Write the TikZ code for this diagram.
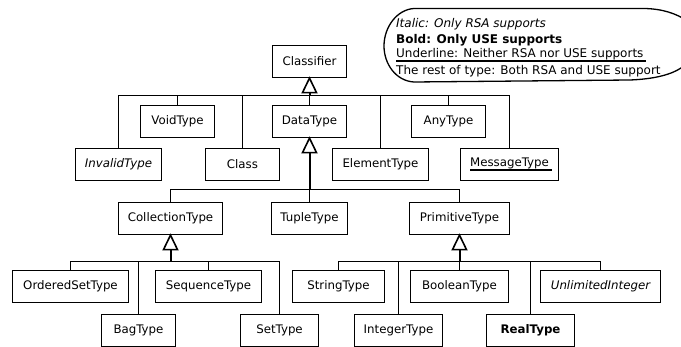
\documentclass[tikz,border=0pt]{standalone}
\usepackage{fontspec}
\setmainfont{DejaVu Sans}
\usetikzlibrary{calc}
% thick underline that runs a little past the end of the text
\newcommand{\ulbar}[1]{\setbox0\hbox{#1}\rlap{\rule[-4pt]{\dimexpr\wd0+3pt\relax}{1.8pt}}\box0}
\begin{document}
\begin{tikzpicture}[x=1pt,y=-1pt,
  box/.style={draw, line width=1.25pt, minimum height=32pt, inner sep=0pt,
              font=\fontsize{11.8}{14}\selectfont},
  conn/.style={line width=1.2pt},
  stem/.style={line width=2pt},
  tri/.style={draw, line width=1.6pt, fill=white, line join=miter},
  legtext/.style={anchor=base west, inner sep=0pt, font=\fontsize{12}{14}\selectfont}]

\useasboundingbox (0,0) rectangle (681,347);

% legend outline, its right end runs past the page edge
\begin{scope}
\clip (0,0) rectangle (681,347);
\draw[line width=1.3pt] (414,8.5) -- (645,8.5)
  .. controls (662,9) and (676,13) .. (689,22)
  .. controls (700,32) and (696,58) .. (681,68)
  .. controls (672,74) and (656,79) .. (630,80)
  -- (414,82)
  .. controls (396,81) and (384,64) .. (384,46)
  .. controls (384,27) and (397,9.5) .. (414,8.5) -- cycle;
\end{scope}
\node[legtext] (lgI) at (396,27.3) {\itshape Italic: Only RSA supports};
\node[legtext] (lgB) at (396,43.3) {\bfseries Bold: Only USE supports};
\node[legtext] (lgU) at (396,57.6) {\ulbar{Underline: Neither RSA nor USE supports}};
\node[legtext] (lgR) at (396,75) {The rest of type: Both RSA and USE support};

% classes
\node[box, minimum width=74pt]  (classifier) at (309.5,61.5) {Classifier};

\node[box, minimum width=74pt]  (void)    at (177.5,121.5) {VoidType};
\node[box, minimum width=74pt]  (data)    at (309.5,121.5) {DataType};
\node[box, minimum width=74pt]  (any)     at (448.5,121.5) {AnyType};

\node[box, minimum width=86pt]  (invalid) at (118.5,164.5) {\itshape InvalidType};
\node[box, minimum width=74pt]  (class)   at (242.5,164.5) {Class};
\node[box, minimum width=96pt]  (element) at (380.5,164.5) {ElementType};
\node[box, minimum width=98pt]  (message) at (509.5,164.5) {\ulbar{MessageType}};

\node[box, minimum width=104pt] (coll)    at (170.5,218.5) {CollectionType};
\node[box, minimum width=76pt]  (tuple)   at (309.5,218.5) {TupleType};
\node[box, minimum width=100pt] (prim)    at (459.5,218.5) {PrimitiveType};

\node[box, minimum width=116pt] (oset)    at (70.5,286.5)  {OrderedSetType};
\node[box, minimum width=106pt] (seq)     at (208.5,286.5) {SequenceType};
\node[box, minimum width=92pt]  (string)  at (338.5,286.5) {StringType};
\node[box, minimum width=98pt]  (bool)    at (459.5,286.5) {BooleanType};
\node[box, minimum width=120pt] (unlim)   at (600.5,286.5) {\itshape UnlimitedInteger};

\node[box, minimum width=74pt]  (bag)     at (138.5,330.5) {BagType};
\node[box, minimum width=78pt]  (set)     at (279.5,330.5) {SetType};
\node[box, minimum width=88pt]  (integer) at (398.5,330.5) {IntegerType};
\node[box, minimum width=88pt]  (real)    at (530.5,330.5) {\bfseries RealType};

% bus levels
\coordinate (busA) at (0,95.5);
\coordinate (busB) at (0,189.5);
\coordinate (busC) at (0,261.5);

% triangle bases
\coordinate (tClassifier) at ($(classifier.south)+(0,14.5)$);
\coordinate (tData)       at ($(data.south)+(0,14.5)$);
\coordinate (tColl)       at ($(coll.south)+(0,14.5)$);
\coordinate (tPrim)       at ($(prim.south)+(0,14.5)$);

% Classifier generalisation
\draw[conn] (invalid.north |- busA) -- (message.north |- busA);
\foreach \n in {invalid,void,class,data,element,any,message}
  \draw[conn] (\n.north) -- (\n.north |- busA);
\draw[stem] (tClassifier) -- (tClassifier |- busA);

% DataType generalisation
\draw[conn] (coll.north |- busB) -- (prim.north |- busB);
\foreach \n in {coll,tuple,prim}
  \draw[conn] (\n.north) -- (\n.north |- busB);
\draw[stem] (tData) -- (tData |- busB);

% CollectionType generalisation
\draw[conn] (oset.north |- busC) -- (set.north |- busC);
\foreach \n in {oset,bag,seq,set}
  \draw[conn] (\n.north) -- (\n.north |- busC);
\draw[stem] (tColl) -- (tColl |- busC);

% PrimitiveType generalisation
\draw[conn] (string.north |- busC) -- (unlim.north |- busC);
\foreach \n in {string,integer,bool,real,unlim}
  \draw[conn] (\n.north) -- (\n.north |- busC);
\draw[stem] (tPrim) -- (tPrim |- busC);

% hollow triangle heads
\foreach \p in {classifier,data,coll,prim}
  \draw[tri] (\p.south) -- ++(-7,14.5) -- ++(14,0) -- cycle;
\end{tikzpicture}
\end{document}
